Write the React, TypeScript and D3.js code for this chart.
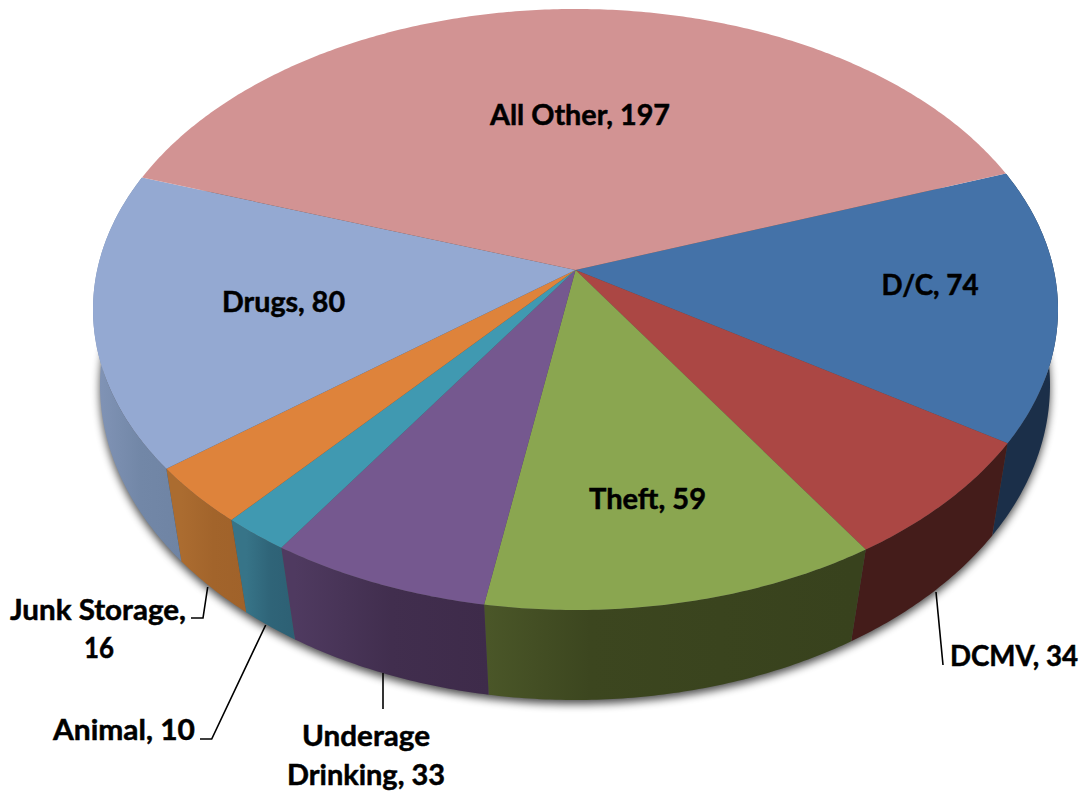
import React from "react";
import * as d3 from "d3";

const categories = ["D/C", "DCMV", "Theft", "Underage Drinking", "Animal", "Junk Storage", "Drugs", "All Other"];
const seriesValues = [74, 34, 59, 33, 10, 16, 80, 197];
const topColors = ["#4472A8", "#AB4744", "#8AA650", "#75588F", "#4099B1", "#DE833B", "#94A9D2", "#D29393"];
const sideLeft = ["#1B2F49", "#441C1A", "#4A5628", "#4F3A60", "#377488", "#AB6C30", "#8093B5", "#8A6A6A"];
const sideRight = ["#1B2F49", "#441C1A", "#38421D", "#3E2B4A", "#2D6074", "#A0622A", "#6F84A4", "#8A6A6A"];
const sideMid = [0.5, 0.5, 0.28, 0.5, 0.5, 0.5, 0.5, 0.5];

const W = 1085, H = 793;
const top = { cx: 575.5, cy: 309.5, rx: 482.5, ry: 300.5, e: -0.1315 };
const bot = { cx: 575, cy: 385, rx: 475, ry: 315, e: -0.09 };
const rot = (70.05 * Math.PI) / 180;

type El = typeof top;
// Perspective projection of a point on the pie's rim.
function rim(el: El, a: number): [number, number] {
  const t = a - Math.PI / 2;
  const u = Math.cos(t), v = Math.sin(t);
  const s = Math.sqrt(1 - el.e * el.e);
  const d = 1 + el.e * v;
  return [el.cx + el.rx * ((u * s) / d), el.cy + el.ry * ((v + el.e) / d)];
}
const apex: [number, number] = [top.cx, top.cy + top.ry * top.e];

const arcs = d3.pie<number>().sort(null).startAngle(rot).endAngle(rot + 2 * Math.PI)(seriesValues);
const line = d3.line();
const samples = (a0: number, a1: number) => {
  const n = Math.max(2, Math.ceil((a1 - a0) / 0.01));
  return d3.range(n + 1).map((i) => a0 + ((a1 - a0) * i) / n);
};

const shadowPts = samples(0, 2 * Math.PI).map((a) => rim(bot, a));

const leaders: [number, number][][] = [
  [[936, 592], [943, 665]],
  [[383, 673], [383, 709]],
  [[265.7, 625], [211.7, 739], [200, 739]],
  [[207.7, 587], [203, 618], [191, 618]],
];
const labels: { t: string; x: number; y: number; w: number; a?: string }[] = [
  { t: "All Other, 197", x: 580, y: 113.5, w: 180 },
  { t: "D/C, 74", x: 930, y: 283.5, w: 97 },
  { t: "Drugs, 80", x: 283.5, y: 300.5, w: 123 },
  { t: "Theft, 59", x: 647.5, y: 497, w: 117 },
  { t: "DCMV, 34", x: 950, y: 654.5, w: 128, a: "start" },
  { t: "Junk Storage,", x: 98, y: 608.5, w: 176 },
  { t: "16", x: 99, y: 646.5, w: 30 },
  { t: "Animal, 10", x: 124, y: 728.5, w: 142 },
  { t: "Underage", x: 366, y: 734.5, w: 128 },
  { t: "Drinking, 33", x: 366, y: 773.5, w: 158 },
];

export default function App() {
  const sides = arcs
    .map((d, i) => ({ d, i }))
    .filter(({ i }) => categories[i] !== "All Other");
  return (
    <svg width={W} height={H} viewBox={`0 0 ${W} ${H}`} style={{ position: "absolute", left: 0, top: 0, display: "block", background: "#fff" }}>
      <defs>
        <filter id="sh" x="-5%" y="-5%" width="110%" height="110%">
          <feGaussianBlur stdDeviation="4" />
        </filter>
        {sides.map(({ d, i }) => {
          const xs = samples(d.startAngle, d.endAngle).map((a) => rim(bot, a)[0]);
          return (
            <linearGradient key={i} id={`g${i}`} gradientUnits="userSpaceOnUse" x1={d3.min(xs)} x2={d3.max(xs)} y1={0} y2={0}>
              <stop offset="0" stopColor={sideLeft[i]} />
              <stop offset={sideMid[i]} stopColor={d3.interpolateRgb(sideLeft[i], sideRight[i])(0.8)} />
              <stop offset="1" stopColor={sideRight[i]} />
            </linearGradient>
          );
        })}
      </defs>
      <path d={line(shadowPts) + "Z"} fill="#000" opacity={0.7} filter="url(#sh)" transform="translate(0,4)" />
      {sides.map(({ d, i }) => {
        const as = samples(d.startAngle, d.endAngle);
        const pts = [...as.map((a) => rim(top, a)), ...as.slice().reverse().map((a) => rim(bot, a))];
        return <path key={i} d={line(pts) + "Z"} fill={`url(#g${i})`} />;
      })}
      {arcs.map((d, i) => {
        const pts = [apex, ...samples(d.startAngle, d.endAngle).map((a) => rim(top, a))];
        return <path key={i} d={line(pts as [number, number][]) + "Z"} fill={topColors[i]} />;
      })}
      {leaders.map((l, i) => (
        <path key={i} d={line(l) as string} fill="none" stroke="#000" strokeWidth={1.6} />
      ))}
      <g fontFamily="Lato, 'Open Sans', sans-serif" fontWeight={700} fontSize={29} fill="#000" stroke="#000" strokeWidth={0.5}>
        {labels.map((l) => (
          <text key={l.t} x={l.x} y={l.y} textAnchor={(l.a as any) ?? "middle"} dominantBaseline="central" textLength={l.w} lengthAdjust="spacingAndGlyphs">
            {l.t}
          </text>
        ))}
      </g>
    </svg>
  );
}
